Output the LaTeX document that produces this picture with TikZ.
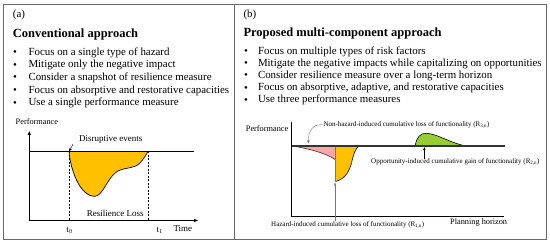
\documentclass[tikz,border=0pt]{standalone}
\usepackage{fontspec}
\setmainfont{Liberation Serif}
\usetikzlibrary{arrows.meta}
\definecolor{framegray}{RGB}{105,105,105}
\definecolor{lossorange}{RGB}{255,192,0}
\definecolor{losspink}{RGB}{244,168,168}
\definecolor{pinkedge}{RGB}{130,45,45}
\definecolor{gaingreen}{RGB}{150,205,50}
\definecolor{pointergray}{RGB}{120,120,120}
\begin{document}
\begin{tikzpicture}[x=1pt,y=-1pt,
  txt/.style={inner sep=0pt, anchor=mid west, font=\fontsize{10.9}{12}\selectfont},
  bul/.style={inner sep=0pt, anchor=center, font=\fontsize{10.9}{12}\selectfont},
  head/.style={inner sep=0pt, anchor=mid west, font=\bfseries\fontsize{12.5}{14}\selectfont},
  smalltxt/.style={inner sep=0pt, font=\fontsize{8.3}{9}\selectfont},
  tinytxt/.style={inner sep=0pt, font=\fontsize{7}{8}\selectfont},
  midtxt/.style={inner sep=0pt, font=\fontsize{9}{10}\selectfont},
  axisline/.style={line width=0.8pt},
  tipped/.style={-{Triangle[length=4pt,width=3pt]}},
  pointer/.style={-{Triangle[length=3pt,width=2.4pt]}, line width=0.4pt},
  guide/.style={dashed, dash pattern=on 2pt off 1.5pt, line width=0.6pt},
]
\useasboundingbox (0,0) rectangle (550,245);
% frame
\draw[framegray, line width=0.9pt] (3,4) rectangle (546.5,239.5);
\draw[framegray, line width=0.9pt] (234,4) -- (234,239.5);

% ---------------- panel (a)
\node[txt] (labA) at (12.7,15.5) {(a)};
\node[head] (headA) at (12.7,35.5) {Conventional approach};
\foreach \y/\t [count=\i] in {53.3/{Focus on a single type of hazard},
  65.7/{Mitigate only the negative impact},
  78.5/{Consider a snapshot of resilience measure},
  91.2/{Focus on absorptive and restorative capacities},
  103.6/{Use a single performance measure}}{
  \node[bul] (bA\i) at (15,\y) {\textbullet};
  \node[txt] (lA\i) at (28.3,\y) {\t};
}
% graph (a)
\coordinate (oA) at (29.3,220.5);
\coordinate (yA) at (29.3,131);
\coordinate (xA) at (198,220.5);
\coordinate (t0b) at (69,151.5);
\coordinate (t1b) at (148.3,151.5);
\coordinate (t0a) at (69,220.5);
\coordinate (t1a) at (148.3,220.5);
\coordinate (baseAl) at (29.3,151.5);
\coordinate (baseAr) at (194,151.5);
\fill[lossorange] (t0b) .. controls (70.5,170) and (80,196.5) .. (95,196.3)
  .. controls (103,196) and (108,176) .. (118,171)
  .. controls (126,167) and (134,169) .. (140,163)
  .. controls (144,159) and (146,154) .. (t1b) -- cycle;
\draw[line width=0.7pt] (t0b) .. controls (70.5,170) and (80,196.5) .. (95,196.3)
  .. controls (103,196) and (108,176) .. (118,171)
  .. controls (126,167) and (134,169) .. (140,163)
  .. controls (144,159) and (146,154) .. (t1b);
\draw[guide] (t0b) -- (t0a);
\draw[guide] (t1b) -- (t1a);
\draw[axisline] (baseAl) -- (baseAr);
\draw[axisline, tipped] (oA) -- (yA);
\draw[axisline, tipped] (oA) -- (xA);
\node[smalltxt, anchor=mid west] (perfA) at (15.5,122) {Performance};
\node[midtxt, anchor=mid west] (dis) at (79,138.8) {Disruptive events};
\draw[pointer] ([xshift=-6pt,yshift=-1pt]dis.south west) -- (t0b);
\node[midtxt] (rl) at (115.3,213.8) {Resilience Loss};
\node[midtxt] (t0) at (69.5,230.5) {t\textsubscript{0}};
\node[midtxt] (t1) at (159.5,230) {t\textsubscript{1}};
\node[midtxt, anchor=mid west] (time) at (173.3,229.5) {Time};

% ---------------- panel (b)
\node[txt] (labB) at (243.3,15.5) {(b)};
\node[head] (headB) at (243.3,34) {Proposed multi-component approach};
\foreach \y/\t [count=\i] in {52/{Focus on multiple types of risk factors},
  64.2/{Mitigate the negative impacts while capitalizing on opportunities},
  76.5/{Consider resilience measure over a long-term horizon},
  88.7/{Focus on absorptive, adaptive, and restorative capacities},
  100.6/{Use three performance measures}}{
  \node[bul] (bB\i) at (246,\y) {\textbullet};
  \node[txt] (lB\i) at (257.8,\y) {\t};
}
% graph (b)
\coordinate (oB) at (291.7,216.7);
\coordinate (yB) at (291.7,121.7);
\coordinate (xB) at (504,216.7);
\coordinate (baseBl) at (291.7,146);
\coordinate (baseBr) at (505,146);
\coordinate (pinkL) at (292.7,146);
\coordinate (pinkB) at (335,159.3);
\coordinate (split) at (335,146);
\coordinate (yelB) at (335,181.7);
\coordinate (yelR) at (359.3,146);
\coordinate (grnL) at (415,146);
\coordinate (grnR) at (466.7,146);
% pink
\fill[losspink] (pinkL) .. controls (310,149) and (325,153) .. (pinkB) -- (split) -- cycle;
\draw[pinkedge, line width=0.7pt] (pinkL) .. controls (310,149) and (325,153) .. (pinkB);
% yellow
\fill[lossorange] (split) -- (yelB) .. controls (345,179) and (349,172) .. (351.5,163)
  .. controls (353.5,154) and (356,147) .. (yelR) -- cycle;
\draw[line width=0.6pt] (yelB) .. controls (345,179) and (349,172) .. (351.5,163)
  .. controls (353.5,154) and (356,147) .. (yelR);
% green
\fill[gaingreen] (grnL) .. controls (417,137) and (420,133) .. (426.7,133.3)
  .. controls (438,134) and (452,144) .. (grnR) -- cycle;
\draw[line width=0.6pt] (grnL) .. controls (417,137) and (420,133) .. (426.7,133.3)
  .. controls (438,134) and (452,144) .. (grnR);
\draw[pointergray, line width=0.5pt] (split) -- (yelB);
\draw[line width=1.1pt, black!80] (baseBl) -- (baseBr);
\draw[axisline] (yB) -- (oB) -- (xB);
\node[smalltxt, anchor=mid east] (perfB) at (288.5,129.3) {Performance};
\node[tinytxt, anchor=mid west] (nh) at (323.3,124) {Non-hazard-induced cumulative loss of functionality (R\textsubscript{3,n})};
\node[tinytxt, anchor=mid west] (op) at (371,161.7) {Opportunity-induced cumulative gain of functionality (R\textsubscript{2,n})};
\node[tinytxt, anchor=mid west] (hz) at (271,224.3) {Hazard-induced cumulative loss of functionality (R\textsubscript{1,n})};
\node[smalltxt, anchor=mid west] (ph) at (450,222.7) {Planning horizon};
\coordinate (nhpt) at (308.3,143.5);
\coordinate (oppt) at (424.3,147.2);
\coordinate (hzpt) at (335,182.5);
\draw[pointer, pointergray] (nh.west) .. controls (313,124) and (308.5,130) .. (nhpt);
\draw[pointer] (op.north -| oppt) -- (oppt);
\draw[pointer, pointergray] (hz.north -| hzpt) -- (hzpt);
\end{tikzpicture}
\end{document}
